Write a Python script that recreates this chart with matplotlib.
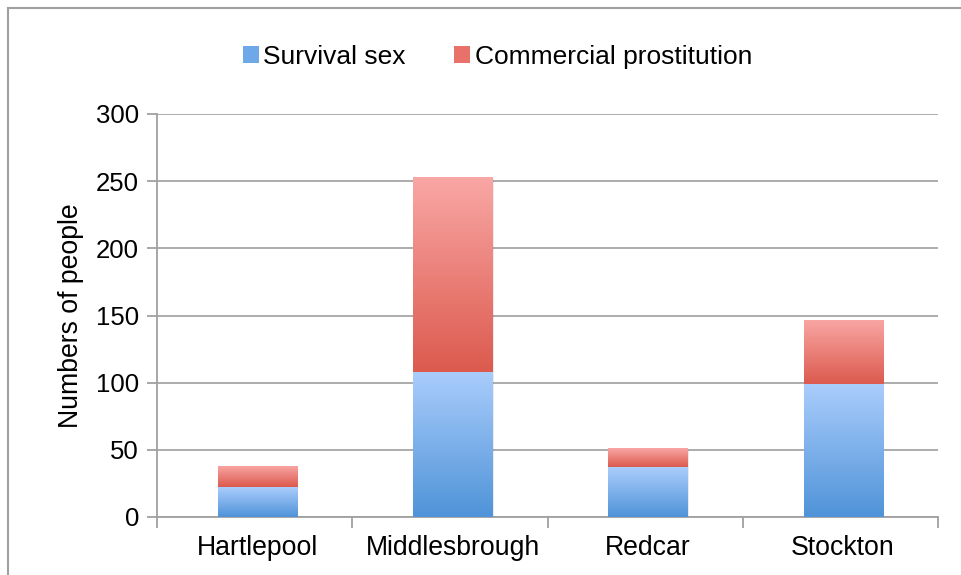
import numpy as np
import matplotlib.pyplot as plt
from matplotlib.patches import Rectangle
from matplotlib.colors import LinearSegmentedColormap

plt.rcParams['font.family'] = ['Liberation Sans', 'DejaVu Sans']

# data
areas = ["Hartlepool", "Middlesbrough", "Redcar", "Stockton"]
survival_sex = [22, 108, 37, 99]
commercial = [16, 145, 14, 48]
series_names = ["Survival sex", "Commercial prostitution"]
y_ticks = [0, 50, 100, 150, 200, 250, 300]

# gradient colours (top, bottom)
blue_grad = ("#aacdfc", "#4f93d8")
red_grad = ("#f9a7a5", "#dc5a4e")

fig = plt.figure(figsize=(9.62, 5.75), dpi=100)
# outer frame of the original chart box
fig.patches.append(Rectangle((8 / 962, -0.1), 1.1, 1 - 8 / 575 + 0.1,
                             transform=fig.transFigure, fill=False,
                             edgecolor="#a0a0a0", linewidth=1.5))

ax = fig.add_axes([157 / 962, 1 - 517 / 575, (938 - 157) / 962, (517 - 114) / 575])

bar_w = 0.405
bar_shift = 0.014
x = np.arange(len(areas))


def gradient_bar(ax, xc, bottom, height, colors):
    cmap = LinearSegmentedColormap.from_list("g", [colors[1], colors[0]])
    left = xc - bar_w / 2 + bar_shift
    # soft shadow
    shadow = Rectangle((left + 0.008, bottom - 1.2), bar_w, height,
                       facecolor="#000000", alpha=0.08, edgecolor="none", zorder=2)
    ax.add_patch(shadow)
    rect = Rectangle((left, bottom), bar_w, height,
                     facecolor="none", edgecolor="none", zorder=3)
    ax.add_patch(rect)
    grad = np.linspace(0, 1, 256).reshape(-1, 1)
    im = ax.imshow(grad, cmap=cmap, origin="lower", aspect="auto",
                   extent=(left, left + bar_w, bottom, bottom + height),
                   zorder=3)
    im.set_clip_path(rect)


for i in range(len(areas)):
    gradient_bar(ax, x[i], 0, survival_sex[i], blue_grad)
    gradient_bar(ax, x[i], survival_sex[i], commercial[i], red_grad)

ax.set_xlim(-0.5, len(areas) - 0.5)
ax.set_ylim(0, 300)

ax.set_yticks(y_ticks)
ax.yaxis.grid(True, color="#a6a6a6", linewidth=1.3)
ax.set_axisbelow(True)
ax.tick_params(axis="y", labelsize=18.5, length=7, width=1.3, color="#a0a0a0", pad=6)

ax.set_xticks(np.arange(len(areas) + 1) - 0.5)
ax.set_xticklabels([])
ax.set_xticks(x + bar_shift, minor=True)
ax.set_xticklabels(areas, minor=True, fontsize=19.2)
ax.tick_params(axis="x", which="major", length=8, width=1.3, color="#a0a0a0")
ax.tick_params(axis="x", which="minor", length=0, pad=13)

for s in ["top", "right"]:
    ax.spines[s].set_visible(False)
for s in ["left", "bottom"]:
    ax.spines[s].set_color("#a0a0a0")
    ax.spines[s].set_linewidth(1.3)

ax.set_ylabel("Numbers of people", fontsize=19.2, labelpad=8.5)

handles = [Rectangle((0, 0), 1, 1, facecolor="#6ea8e8"),
           Rectangle((0, 0), 1, 1, facecolor="#e8726a")]
fig.legend(handles, series_names, loc="center", bbox_to_anchor=(497.5 / 962, 1 - 57 / 575),
           ncol=2, frameon=False, fontsize=19, handlelength=0.6, handleheight=0.6,
           handletextpad=0.18, columnspacing=1.83)

fig.savefig("out.png", dpi=100)
